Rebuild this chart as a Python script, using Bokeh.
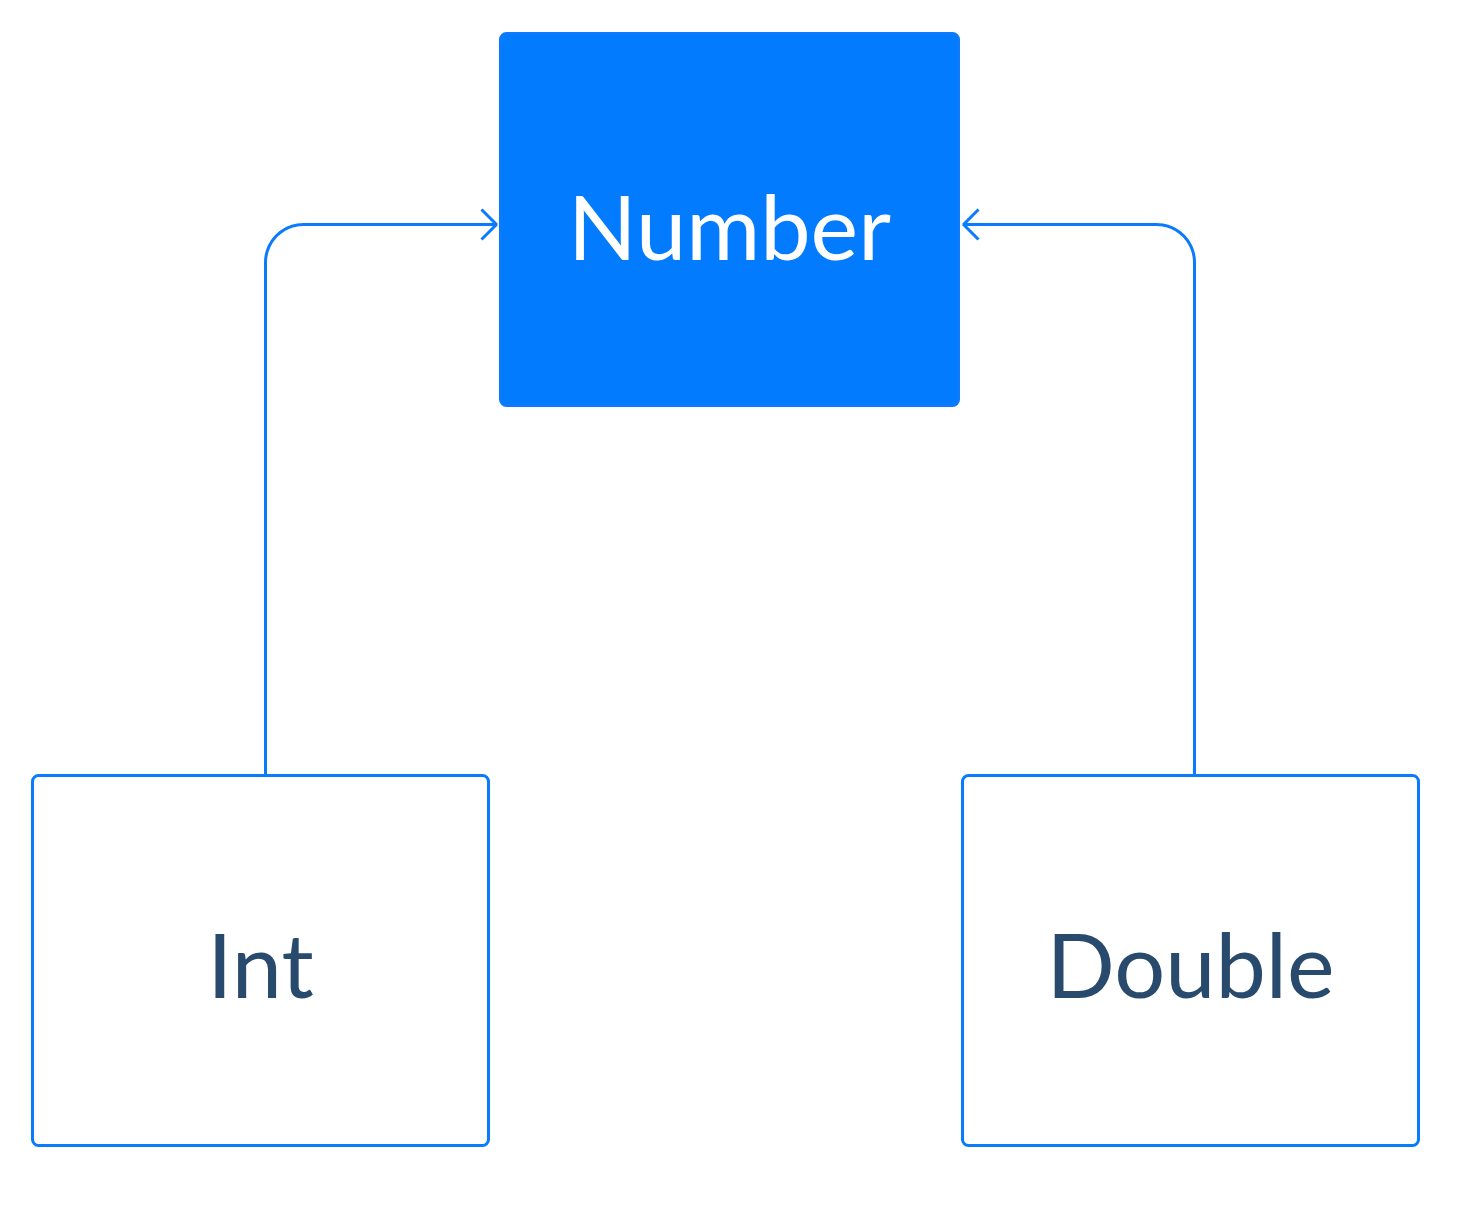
import numpy as np
from bokeh.plotting import figure
from bokeh.embed import file_html
from bokeh.resources import INLINE
from bokeh.core.properties import value

# boxes: left, right, top, bottom (page pixels)
names = ["Number", "Int", "Double"]
lefts = [508, 40, 970]
rights = [966, 496, 1426]
tops = [41, 783, 783]
bottoms = [413, 1153, 1153]
fills = ["#027BFF", "white", "white"]
text_colors = ["white", "#284A6C", "#284A6C"]

blue = "#0A7BFF"

p = figure(width=1458, height=1190, x_range=(8, 1466), y_range=(1198, 8),
           output_backend="svg", toolbar_location=None)
p.axis.visible = False
p.grid.visible = False
p.outline_line_color = None
p.min_border = 0

p.quad(left=lefts, right=rights, top=tops, bottom=bottoms, fill_color=fills,
       line_color=blue, line_width=3, border_radius=6)

cx = [(l + r) / 2 for l, r in zip(lefts, rights)]
cy = [(t + b) / 2 + 2 for t, b in zip(tops, bottoms)]
cy[0] = 232
p.text(cx, cy, text=names, text_color=text_colors, text_font=value("Lato"),
       text_font_size="90px", text_align="center", text_baseline="middle")

# connectors from child box top to Number side
r = 38
arrow_y = 232
def connector(x0, x_end, side):
    t = np.linspace(0, np.pi / 2, 20)
    ccx = x0 + side * r
    ccy = arrow_y + r
    ax = ccx - side * r * np.cos(t)
    ay = ccy - r * np.sin(t)
    xs = [x0] + list(ax) + [x_end]
    ys = [783] + list(ay) + [arrow_y]
    p.line(xs, ys, line_color=blue, line_width=3)
    p.line([x_end - side * 15, x_end, x_end - side * 15],
           [arrow_y - 15, arrow_y, arrow_y + 15], line_color=blue, line_width=3)

connector(273, 504, 1)
connector(1202, 971, -1)

open("out.html", "w").write(file_html(p, INLINE))
